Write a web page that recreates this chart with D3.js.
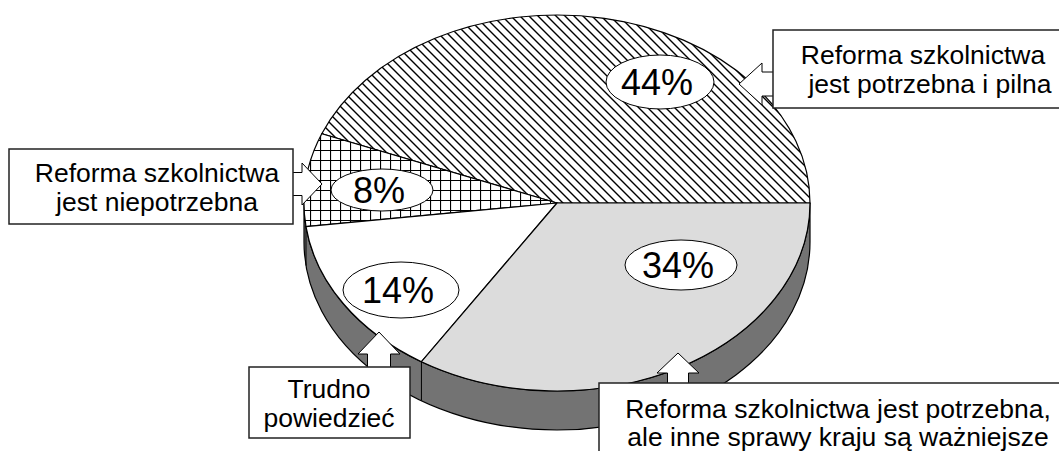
<!DOCTYPE html>
<head>
<title>Reforma szkolnictwa</title>
<meta charset="utf-8">
<style>
body { margin: 0; background: #fff; }
text { font-family: "Liberation Sans", Arial, sans-serif; fill: #000; }
.slice { stroke: #000; stroke-width: 1.2px; }
.bubble { fill: #fff; stroke: #000; stroke-width: 1px; }
.arrow { fill: #fff; stroke: #000; stroke-width: 1px; stroke-linejoin: miter; }
.box { fill: #fff; stroke: #222; stroke-width: 1.5px; }
</style>
</head>
<body>
<svg width="1059" height="451"></svg>
<script src="https://cdn.jsdelivr.net/npm/d3@7"></script>
<script>
// data
const categories = [
  "Reforma szkolnictwa jest potrzebna i pilna",
  "Reforma szkolnictwa jest niepotrzebna",
  "Trudno powiedzieć",
  "Reforma szkolnictwa jest potrzebna, ale inne sprawy kraju są ważniejsze"
];
const values = [44, 8, 14, 34];
const valueLabels = ["44%", "8%", "14%", "34%"];
const calloutLines = [
  ["Reforma szkolnictwa", "jest potrzebna i pilna"],
  ["Reforma szkolnictwa", "jest niepotrzebna"],
  ["Trudno", "powiedzieć"],
  ["Reforma szkolnictwa jest potrzebna,", "ale inne sprawy kraju są ważniejsze"]
];

// layout
const cx = 557, cy = 203, rx = 253, ry = 188, depth = 39;
const fills = ["url(#hatch)", "url(#grid)", "#fff", "#dcdcdc"];
const bubbles = [
  {x: 660, y: 82, rx: 54, ry: 27},
  {x: 382, y: 190, rx: 51, ry: 21},
  {x: 401, y: 290, rx: 58, ry: 28},
  {x: 681, y: 265, rx: 56, ry: 25}
];
const boxes = [
  {x: 773, y: 30, w: 300, h: 78, tx: [923, 930], ty: [64, 93]},
  {x: 9, y: 149, w: 284, h: 75, tx: [157, 157], ty: [182, 211]},
  {x: 249, y: 367, w: 161, h: 71, tx: [329, 329], ty: [398, 427]},
  {x: 599, y: 383, w: 480, h: 90, tx: [838, 838], ty: [418, 446]}
];
const arrows = [
  {tip: [739, 84], u: [1, 0], len: 36, head: 23, hw: 21, sw: 12},
  {tip: [322, 184], u: [-1, 0], len: 31, head: 20, hw: 21, sw: 11.5},
  {tip: [379, 332], u: [0, 1], len: 37, head: 22, hw: 21, sw: 11.5},
  {tip: [678, 353], u: [0, 1], len: 32, head: 20, hw: 21, sw: 10.5}
];

const svg = d3.select("svg");
const defs = svg.append("defs");

defs.append("pattern")
    .attr("id", "hatch")
    .attr("patternUnits", "userSpaceOnUse")
    .attr("width", 9).attr("height", 9)
  .call(p => p.append("rect").attr("width", 9).attr("height", 9).attr("fill", "#fff"))
  .append("path")
    .attr("d", "M0,0L9,9M-2,7L2,11M7,-2L11,2")
    .attr("stroke", "#000").attr("stroke-width", 1.4);

defs.append("pattern")
    .attr("id", "grid")
    .attr("patternUnits", "userSpaceOnUse")
    .attr("width", 10).attr("height", 10)
  .call(p => p.append("rect").attr("width", 10).attr("height", 10).attr("fill", "#fff"))
  .append("path")
    .attr("d", "M0.5,0V10M0,0.5H10")
    .attr("stroke", "#000").attr("stroke-width", 1.2);

// pie angles run counterclockwise from the east
const pie = d3.pie().sort(null).startAngle(Math.PI / 2).endAngle(Math.PI / 2 - 2 * Math.PI);
const arcs = pie(values);

const pt = (a, dy = 0) => [cx + rx * Math.sin(a), cy - ry * Math.cos(a) + dy];

function slicePath(d) {
  const p0 = pt(d.startAngle), p1 = pt(d.endAngle);
  const large = Math.abs(d.endAngle - d.startAngle) > Math.PI ? 1 : 0;
  return `M${cx},${cy}L${p0}A${rx},${ry} 0 ${large} 0 ${p1}Z`;
}

// side wall (front half)
const g = svg.append("g");
g.append("path")
    .attr("d", `M${cx - rx},${cy}A${rx},${ry} 0 0 0 ${cx + rx},${cy}` +
               `L${cx + rx},${cy + depth}A${rx},${ry} 0 0 1 ${cx - rx},${cy + depth}Z`)
    .attr("fill", "#737373")
    .attr("stroke", "#000")
    .attr("stroke-width", 1.2);

// vertical edges on the wall where slices meet in the front half
arcs.forEach(d => {
  const a = d.endAngle;
  const c = -Math.cos(a);
  if (c > 0.05 && d.index < arcs.length - 1) {
    const p = pt(a);
    g.append("line")
        .attr("x1", p[0]).attr("y1", p[1])
        .attr("x2", p[0]).attr("y2", p[1] + depth)
        .attr("stroke", "#000");
  }
});

g.selectAll(".slice")
  .data(arcs)
  .join("path")
    .attr("class", "slice")
    .attr("d", slicePath)
    .attr("fill", (d, i) => fills[i]);

// value bubbles
const lab = svg.append("g").selectAll("g")
  .data(arcs)
  .join("g");
lab.append("ellipse")
    .attr("class", "bubble")
    .attr("cx", (d, i) => bubbles[i].x)
    .attr("cy", (d, i) => bubbles[i].y)
    .attr("rx", (d, i) => bubbles[i].rx)
    .attr("ry", (d, i) => bubbles[i].ry);
lab.append("text")
    .attr("x", (d, i) => bubbles[i].x - 3)
    .attr("y", (d, i) => bubbles[i].y + 13)
    .attr("text-anchor", "middle")
    .attr("font-size", 36)
    .text((d, i) => valueLabels[i]);

// callout arrows
function arrowPath(a) {
  const [tx, ty] = a.tip, [ux, uy] = a.u, vx = -uy, vy = ux;
  const P = (s, t) => [tx + ux * s + vx * t, ty + uy * s + vy * t];
  const pts = [P(0, 0), P(a.head, a.hw), P(a.head, a.sw), P(a.len, a.sw),
               P(a.len, -a.sw), P(a.head, -a.sw), P(a.head, -a.hw)];
  return d3.line()(pts) + "Z";
}
svg.append("g").selectAll("path")
  .data(arrows)
  .join("path")
    .attr("class", "arrow")
    .attr("d", arrowPath);

// callout boxes
const cb = svg.append("g").selectAll("g")
  .data(categories)
  .join("g");
cb.append("rect")
    .attr("class", "box")
    .attr("x", (d, i) => boxes[i].x)
    .attr("y", (d, i) => boxes[i].y)
    .attr("width", (d, i) => boxes[i].w)
    .attr("height", (d, i) => boxes[i].h);
cb.each(function(d, i) {
  d3.select(this).selectAll("text")
    .data(calloutLines[i])
    .join("text")
      .attr("x", (t, j) => boxes[i].tx[j])
      .attr("y", (t, j) => boxes[i].ty[j])
      .attr("text-anchor", "middle")
      .attr("font-size", 26.5)
      .text(t => t);
});
</script>
</body>
